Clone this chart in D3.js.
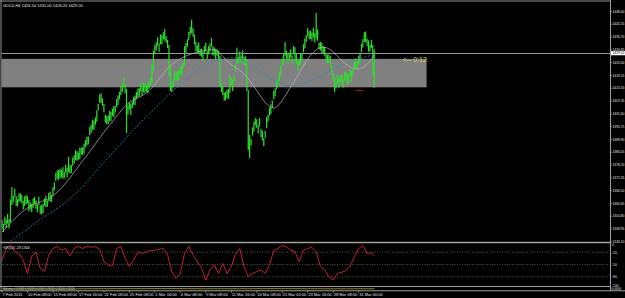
<!DOCTYPE html>
<html>
<head>
<meta charset="utf-8">
<script src="https://cdn.jsdelivr.net/npm/d3@7"></script>
<style>
html, body { margin: 0; padding: 0; background: #000; }
svg { display: block; }
text { font-family: "Liberation Sans", Arial, sans-serif; }
</style>
</head>
<body>
<script>
var WIDTH = 625;
var HEIGHT = 298;
var AXIS_X = 610.5;

// ---- data ----
var symbolLabel = 'GOLD,H4  1426.50 1431.00 1426.20 1429.50';
var wprLabel = '%R(14) -29.1304';
var bidPrice = 1429.50;

// H4 bars, 7 Feb - 31 Mar 2011 (one value per bar)
var lows = [
  1349.2, 1347.6, 1350.8, 1349.4, 1351.4, 1349.2, 1352.0, 1360.0, 1361.1, 1363.7, 1359.5, 1359.3,
  1361.2, 1361.6, 1360.8, 1357.9, 1359.4, 1360.2, 1360.6, 1357.0, 1358.1, 1356.7, 1358.5, 1360.3,
  1358.2, 1356.6, 1359.8, 1355.9, 1355.6, 1356.2, 1359.6, 1359.0, 1359.1, 1361.7, 1361.5, 1361.3,
  1364.2, 1366.6, 1370.8, 1371.9, 1371.4, 1372.2, 1372.6, 1372.0, 1372.1, 1374.7, 1372.5, 1375.0,
  1374.2, 1374.6, 1377.8, 1378.9, 1380.4, 1380.2, 1380.6, 1381.0, 1383.1, 1382.7, 1383.5, 1386.3,
  1387.2, 1387.6, 1391.8, 1392.9, 1394.4, 1394.2, 1396.6, 1398.0, 1403.1, 1406.7, 1406.5, 1405.3,
  1402.2, 1397.6, 1396.8, 1396.9, 1398.4, 1398.2, 1400.6, 1400.0, 1402.1, 1404.7, 1405.5, 1408.3,
  1410.2, 1411.6, 1413.8, 1410.9, 1392.8, 1401.2, 1403.6, 1401.0, 1404.1, 1405.7, 1405.5, 1408.3,
  1409.2, 1409.6, 1411.8, 1409.9, 1411.4, 1411.2, 1411.6, 1411.0, 1413.1, 1414.7, 1415.5, 1421.0,
  1429.2, 1430.6, 1432.8, 1429.9, 1433.4, 1433.2, 1435.6, 1435.0, 1434.1, 1431.7, 1419.0, 1412.0,
  1411.6, 1413.6, 1416.8, 1416.9, 1416.4, 1417.2, 1419.6, 1419.0, 1422.1, 1424.0, 1429.5, 1432.3,
  1435.2, 1437.6, 1438.5, 1436.9, 1433.4, 1430.2, 1429.6, 1429.0, 1428.1, 1427.7, 1425.5, 1429.3,
  1430.2, 1426.6, 1428.8, 1429.9, 1432.4, 1428.2, 1428.6, 1426.0, 1428.1, 1426.7, 1414.0, 1411.5,
  1410.2, 1407.6, 1407.8, 1408.9, 1408.4, 1411.2, 1414.6, 1412.0, 1416.1, 1420.7, 1424.5, 1424.3,
  1426.2, 1424.6, 1426.8, 1423.9, 1423.4, 1412.0, 1385.0, 1381.4, 1387.1, 1391.7, 1393.5, 1396.3,
  1395.2, 1392.6, 1395.8, 1390.9, 1389.4, 1386.8, 1390.6, 1395.0, 1398.1, 1400.7, 1401.5, 1404.3,
  1408.2, 1409.6, 1412.8, 1413.9, 1416.4, 1419.2, 1423.6, 1424.0, 1428.1, 1426.7, 1424.5, 1426.3,
  1427.2, 1424.6, 1428.8, 1425.9, 1424.4, 1421.2, 1423.6, 1424.0, 1426.1, 1429.7, 1431.5, 1434.3,
  1437.2, 1435.6, 1435.8, 1434.9, 1436.4, 1434.2, 1436.0, 1435.0, 1431.1, 1430.7, 1429.5, 1429.3,
  1428.2, 1425.6, 1424.8, 1424.9, 1423.4, 1419.2, 1416.6, 1411.5, 1413.1, 1415.7, 1413.5, 1416.3,
  1415.2, 1413.6, 1416.8, 1416.9, 1415.4, 1415.2, 1418.6, 1416.0, 1419.1, 1421.7, 1422.5, 1422.3,
  1424.2, 1425.6, 1429.8, 1431.9, 1434.4, 1434.2, 1432.6, 1430.0, 1430.1, 1431.7, 1419.0, 1413.5
];
var highs = [
  1353.1, 1351.3, 1354.6, 1353.2, 1355.9, 1353.5, 1362.5, 1368.1, 1364.1, 1367.4, 1364.0, 1362.6,
  1365.1, 1365.3, 1364.6, 1361.7, 1363.9, 1364.5, 1363.9, 1362.2, 1361.1, 1360.4, 1363.0, 1363.6,
  1362.1, 1360.3, 1363.6, 1359.7, 1359.9, 1360.5, 1362.9, 1364.2, 1362.1, 1365.4, 1366.0, 1364.6,
  1368.1, 1370.3, 1374.6, 1375.7, 1375.9, 1376.5, 1375.9, 1377.2, 1375.1, 1378.4, 1377.0, 1381.9,
  1378.1, 1378.3, 1381.6, 1382.7, 1384.9, 1384.5, 1383.9, 1386.2, 1386.1, 1386.4, 1388.0, 1389.6,
  1391.1, 1391.3, 1395.6, 1396.7, 1398.9, 1398.5, 1399.9, 1403.2, 1406.1, 1410.4, 1411.0, 1408.6,
  1406.1, 1401.3, 1400.6, 1400.7, 1402.9, 1402.5, 1403.9, 1405.2, 1405.1, 1408.4, 1410.0, 1411.6,
  1414.1, 1415.3, 1418.2, 1414.7, 1413.0, 1405.5, 1406.9, 1406.2, 1407.1, 1409.4, 1410.0, 1411.6,
  1413.1, 1413.3, 1415.6, 1413.7, 1415.9, 1415.5, 1414.9, 1416.2, 1416.1, 1418.4, 1424.0, 1430.5,
  1433.1, 1434.3, 1436.6, 1433.7, 1437.9, 1437.5, 1438.9, 1440.5, 1437.1, 1435.4, 1433.0, 1424.0,
  1416.1, 1417.3, 1420.6, 1420.7, 1420.9, 1421.5, 1422.9, 1424.2, 1425.1, 1432.5, 1434.0, 1435.6,
  1439.1, 1441.3, 1444.6, 1440.7, 1437.9, 1434.5, 1432.9, 1434.2, 1431.1, 1431.4, 1430.0, 1432.6,
  1434.1, 1430.3, 1432.6, 1433.7, 1436.3, 1432.5, 1431.9, 1431.2, 1431.1, 1430.4, 1428.0, 1415.6,
  1414.1, 1411.3, 1411.6, 1412.7, 1412.9, 1419.5, 1417.9, 1417.2, 1419.1, 1424.4, 1431.8, 1427.6,
  1430.1, 1428.3, 1430.6, 1427.7, 1427.9, 1426.5, 1412.5, 1392.0, 1390.1, 1395.4, 1398.0, 1399.6,
  1399.1, 1396.3, 1399.6, 1394.7, 1393.9, 1390.5, 1393.9, 1400.2, 1401.1, 1404.4, 1406.0, 1407.6,
  1412.1, 1413.3, 1416.6, 1417.7, 1420.9, 1423.5, 1426.9, 1429.2, 1434.4, 1430.4, 1429.0, 1429.6,
  1431.1, 1428.3, 1432.6, 1432.0, 1428.9, 1425.5, 1426.9, 1429.2, 1429.1, 1433.4, 1436.0, 1437.6,
  1440.8, 1439.3, 1439.6, 1438.7, 1440.9, 1438.5, 1447.7, 1440.2, 1434.1, 1434.4, 1434.0, 1432.6,
  1432.1, 1429.3, 1428.6, 1428.7, 1427.9, 1423.5, 1419.9, 1418.2, 1416.1, 1419.4, 1418.0, 1419.6,
  1419.1, 1417.3, 1420.6, 1420.7, 1419.9, 1419.5, 1421.9, 1421.2, 1422.1, 1425.4, 1427.0, 1425.6,
  1428.1, 1429.3, 1433.6, 1435.7, 1438.9, 1439.2, 1435.9, 1435.2, 1433.1, 1435.4, 1433.0, 1431.0
];

// moving averages, read every 8 bars
var maIdx = [0, 8, 16, 24, 32, 40, 48, 56, 64, 72, 80, 88, 96, 104, 112, 120, 128, 136,
  144, 152, 160, 168, 176, 184, 192, 200, 208, 216, 224, 232, 240, 248, 256, 263];
var maFast = [1347.5, 1353.2, 1357.9, 1361.0, 1362.0, 1366.1, 1372.1, 1379.4, 1385.8, 1393.5,
  1399.4, 1406.5, 1408.9, 1411.4, 1418.6, 1424.6, 1427.6, 1429.6, 1430.7, 1431.7, 1424.0,
  1422.3, 1416.1, 1408.3, 1401.9, 1409.6, 1418.0, 1427.2, 1432.6, 1431.8, 1425.6, 1421.8,
  1422.0, 1428.5];
var maSlow = [1340.5, 1344.5, 1348.0, 1352.0, 1355.5, 1358.6, 1362.8, 1367.4, 1373.6, 1379.5,
  1384.9, 1390.8, 1396.5, 1401.5, 1406.5, 1412.0, 1415.5, 1420.5, 1424.4, 1426.3, 1427.3,
  1427.1, 1423.5, 1420.4, 1416.8, 1414.3, 1414.3, 1416.2, 1418.2, 1421.6, 1424.0, 1425.8,
  1427.6, 1428.6];

// Williams %R(14), read every 3 bars
var wprIdx = [0, 3, 6, 9, 12, 15, 18, 21, 24, 27, 30, 33, 36, 39, 42, 45, 48, 51, 54, 57, 60,
  63, 66, 69, 72, 75, 78, 81, 84, 87, 90, 93, 96, 99, 102, 105, 108, 111, 114, 117, 120, 123,
  126, 129, 132, 135, 138, 141, 144, 147, 150, 153, 156, 159, 162, 165, 168, 171, 174, 177,
  180, 183, 186, 189, 192, 195, 198, 201, 204, 207, 210, 213, 216, 219, 222, 225, 228, 231,
  234, 237, 240, 243, 246, 249, 252, 255, 258, 261, 263];
var wprVals = [-39, -11, -3, -19, -23, -39, -72, -31, -19, -59, -67, -27, -11, -6, -15, -11,
  -29, -11, -6, -11, -6, -8, -6, -13, -43, -51, -53, -11, -6, -35, -55, -39, -19, -23, -19,
  -16, -15, -13, -11, -27, -67, -84, -72, -23, -6, -27, -43, -59, -88, -63, -51, -72, -47,
  -72, -55, -23, -11, -55, -80, -72, -67, -63, -72, -51, -16, -11, -4, -8, -15, -19, -43,
  -15, -11, -8, -19, -55, -63, -80, -88, -72, -69, -65, -53, -31, -11, -4, -23, -21, -29];
var wprLevels = [-20, -50, -80];
var wprTickLabels = ['0', '-20', '-50', '-80', '-100'];
var wprTickValues = [0, -20, -50, -80, -100];

// lowest indicator strip
var lowerIdx = [0, 24, 48, 72, 96, 120, 144, 168, 192, 216, 240, 263];
var lowerVals = [0.45, 0.50, 0.40, 0.55, 0.50, 0.60, 0.45, 0.50, 0.55, 0.50, 0.45, 0.50];

// supply/demand zone drawn on the chart
var zoneLow = 1413.7;
var zoneHigh = 1426.7;
var zoneEndIdx = 300;
var zoneLabel = '<-- 0:12';
var zoneLabelIdx = 283;

var smallMarks = [
  { from: 243, to: 246, price: 1415.2, color: '#e07020' },
  { from: 249.5, to: 255, price: 1412.2, color: '#d02020' }
];

var priceTicks = [1343.10, 1348.95, 1354.80, 1360.65, 1366.50, 1372.35, 1378.20, 1384.05,
  1389.90, 1395.75, 1401.60, 1407.45, 1413.30, 1419.15, 1425.00, 1430.85, 1436.70, 1442.55,
  1448.40];

var timeLabelIdx = [0, 18, 36, 54, 72, 90, 108, 126, 144, 162, 180, 198, 216, 234, 252];
var timeLabels = ['7 Feb 2011', '10 Feb 08:00', '15 Feb 08:00', '17 Feb 16:00', '22 Feb 08:00',
  '25 Feb 08:00', '1 Mar 16:00', '4 Mar 08:00', '9 Mar 08:00', '11 Mar 16:00', '16 Mar 08:00',
  '21 Mar 01:00', '23 Mar 16:00', '28 Mar 08:00', '31 Mar 00:00'];

// ---- scales ----
var x = d3.scaleLinear().domain([0, 263]).range([2, 374.2]);
var y = d3.scaleLinear().domain([1348.95, 1448.40]).range([229, 11.4]);
var wprY = d3.scaleLinear().domain([0, -100]).range([244, 285]);
var lowerY = d3.scaleLinear().domain([0, 1]).range([290, 287.5]);

var svg = d3.select('body').append('svg')
    .attr('width', WIDTH)
    .attr('height', HEIGHT);

svg.append('rect').attr('width', WIDTH).attr('height', HEIGHT).attr('fill', '#000');

var defs = svg.append('defs');
defs.append('clipPath').attr('id', 'mainClip')
  .append('rect').attr('x', 1.5).attr('y', 1.5).attr('width', AXIS_X - 1.5).attr('height', 240);

var main = svg.append('g').attr('clip-path', 'url(#mainClip)');

// grey zone
main.append('rect')
    .attr('x', 0)
    .attr('y', y(zoneHigh))
    .attr('width', x(zoneEndIdx))
    .attr('height', y(zoneLow) - y(zoneHigh))
    .attr('fill', '#808080');

// bid line
main.append('line')
    .attr('x1', 0).attr('x2', AXIS_X)
    .attr('y1', Math.round(y(bidPrice)) + 0.5).attr('y2', Math.round(y(bidPrice)) + 0.5)
    .attr('stroke', '#989898').attr('stroke-width', 1);

// bars (high-low)
main.selectAll('rect.bar')
    .data(highs)
    .enter()
    .append('rect')
    .attr('class', 'bar')
    .attr('x', function (d, i) { return x(i) - 0.6; })
    .attr('y', function (d) { return y(d); })
    .attr('width', 1.2)
    .attr('height', function (d, i) { return y(lows[i]) - y(d); })
    .attr('fill', '#2ee02e');

var maLine = function (vals) {
    return d3.line()
        .x(function (d, i) { return x(maIdx[i]); })
        .y(function (d) { return y(d); })
        .curve(d3.curveBasis)(vals);
};

main.append('path')
    .attr('d', maLine(maSlow))
    .attr('fill', 'none')
    .attr('stroke', '#2f86b8')
    .attr('stroke-width', 0.8)
    .attr('stroke-dasharray', '2,1.5');

main.append('path')
    .attr('d', maLine(maFast))
    .attr('fill', 'none')
    .attr('stroke', '#b8b8b8')
    .attr('stroke-width', 0.7);

main.selectAll('line.mark')
    .data(smallMarks)
    .enter()
    .append('line')
    .attr('x1', function (d) { return x(d.from); })
    .attr('x2', function (d) { return x(d.to); })
    .attr('y1', function (d) { return y(d.price); })
    .attr('y2', function (d) { return y(d.price); })
    .attr('stroke', function (d) { return d.color; })
    .attr('stroke-width', 0.8);

main.append('text')
    .attr('x', x(zoneLabelIdx))
    .attr('y', y(zoneHigh) + 3.5)
    .attr('font-size', 7)
    .attr('fill', '#d2d26a')
    .text(zoneLabel);

svg.append('text')
    .attr('x', 3).attr('y', 6.5)
    .attr('font-size', 4)
    .attr('fill', '#e8e8e8')
    .text(symbolLabel);

// ---- Williams %R window ----
var wpr = svg.append('g');

wpr.selectAll('line.level')
    .data(wprLevels)
    .enter()
    .append('line')
    .attr('x1', 2).attr('x2', AXIS_X)
    .attr('y1', function (d) { return wprY(d); })
    .attr('y2', function (d) { return wprY(d); })
    .attr('stroke', '#8a8a8a')
    .attr('stroke-width', 0.6)
    .attr('stroke-dasharray', '1,1.5');

wpr.append('path')
    .attr('d', d3.line()
        .x(function (d, i) { return x(wprIdx[i]); })
        .y(function (d) { return wprY(d); })(wprVals))
    .attr('fill', 'none')
    .attr('stroke', '#d8203c')
    .attr('stroke-width', 0.9);

wpr.append('text')
    .attr('x', 3).attr('y', 248.5)
    .attr('font-size', 3.5)
    .attr('fill', '#e8e8e8')
    .text(wprLabel);

// lowest strip indicator
svg.append('path')
    .attr('d', d3.line()
        .x(function (d, i) { return x(lowerIdx[i]); })
        .y(function (d) { return lowerY(d); })
        .curve(d3.curveBasis)(lowerVals))
    .attr('fill', 'none')
    .attr('stroke', '#c8c850')
    .attr('stroke-width', 0.7);

svg.append('text')
    .attr('x', 3).attr('y', 289.5)
    .attr('font-size', 3)
    .attr('fill', '#d0d0d0')
    .text('Volumes 0.0000 0.0000 0.0000 0.0000 0.0000 0.0000');

// ---- frame and separators ----
var frame = svg.append('g').attr('fill', 'none');
frame.append('line').attr('x1', 0).attr('x2', AXIS_X).attr('y1', 1).attr('y2', 1)
    .attr('stroke', '#909090').attr('stroke-width', 1);
frame.append('line').attr('x1', 1).attr('x2', 1).attr('y1', 0).attr('y2', 291)
    .attr('stroke', '#909090').attr('stroke-width', 1);
frame.append('line').attr('x1', 0).attr('x2', AXIS_X).attr('y1', 242.5).attr('y2', 242.5)
    .attr('stroke', '#a0a0a0').attr('stroke-width', 1.6);
frame.append('line').attr('x1', 0).attr('x2', AXIS_X).attr('y1', 286.5).attr('y2', 286.5)
    .attr('stroke', '#c8c8c8').attr('stroke-width', 0.8);
frame.append('line').attr('x1', 0).attr('x2', WIDTH).attr('y1', 290.8).attr('y2', 290.8)
    .attr('stroke', '#c8c8c8').attr('stroke-width', 0.8);
frame.append('line').attr('x1', AXIS_X).attr('x2', AXIS_X).attr('y1', 0).attr('y2', 291)
    .attr('stroke', '#a0a0a0').attr('stroke-width', 1);

// ---- right price axis ----
var priceAxis = svg.append('g');
priceAxis.selectAll('line.tick')
    .data(priceTicks)
    .enter()
    .append('line')
    .attr('x1', AXIS_X).attr('x2', AXIS_X + 1.6)
    .attr('y1', function (d) { return y(d); })
    .attr('y2', function (d) { return y(d); })
    .attr('stroke', '#c0c0c0').attr('stroke-width', 0.6);
priceAxis.selectAll('text')
    .data(priceTicks)
    .enter()
    .append('text')
    .attr('x', AXIS_X + 2)
    .attr('y', function (d) { return y(d) + 1.1; })
    .attr('font-size', 3.3)
    .attr('fill', '#e0e0e0')
    .text(function (d) { return d.toFixed(2); });

priceAxis.append('rect')
    .attr('x', AXIS_X + 0.5).attr('y', y(bidPrice) - 1.7)
    .attr('width', 14).attr('height', 4.2)
    .attr('fill', '#ffffff');
priceAxis.append('text')
    .attr('x', AXIS_X + 2).attr('y', y(bidPrice) + 1.6)
    .attr('font-size', 3.3)
    .attr('fill', '#000')
    .text(bidPrice.toFixed(2));

// %R axis
var wprAxis = svg.append('g');
wprAxis.selectAll('text')
    .data(wprTickValues)
    .enter()
    .append('text')
    .attr('x', AXIS_X + 1.5)
    .attr('y', function (d) { return wprY(d) + 1.6; })
    .attr('font-size', 3.3)
    .attr('fill', '#e0e0e0')
    .text(function (d, i) { return wprTickLabels[i]; });

svg.append('text')
    .attr('x', AXIS_X + 1).attr('y', 290.2)
    .attr('font-size', 3.2)
    .attr('fill', '#e0e0e0')
    .text('0.0000');

// ---- time axis ----
var timeAxis = svg.append('g');
timeAxis.selectAll('line')
    .data(timeLabelIdx)
    .enter()
    .append('line')
    .attr('x1', function (d) { return x(d); })
    .attr('x2', function (d) { return x(d); })
    .attr('y1', 290.8).attr('y2', 292.8)
    .attr('stroke', '#c0c0c0').attr('stroke-width', 0.6);
timeAxis.selectAll('text')
    .data(timeLabelIdx)
    .enter()
    .append('text')
    .attr('x', function (d) { return x(d) + 0.5; })
    .attr('y', 296.3)
    .attr('font-size', 4)
    .attr('fill', '#e0e0e0')
    .text(function (d, i) { return timeLabels[i]; });
</script>
</body>
</html>
